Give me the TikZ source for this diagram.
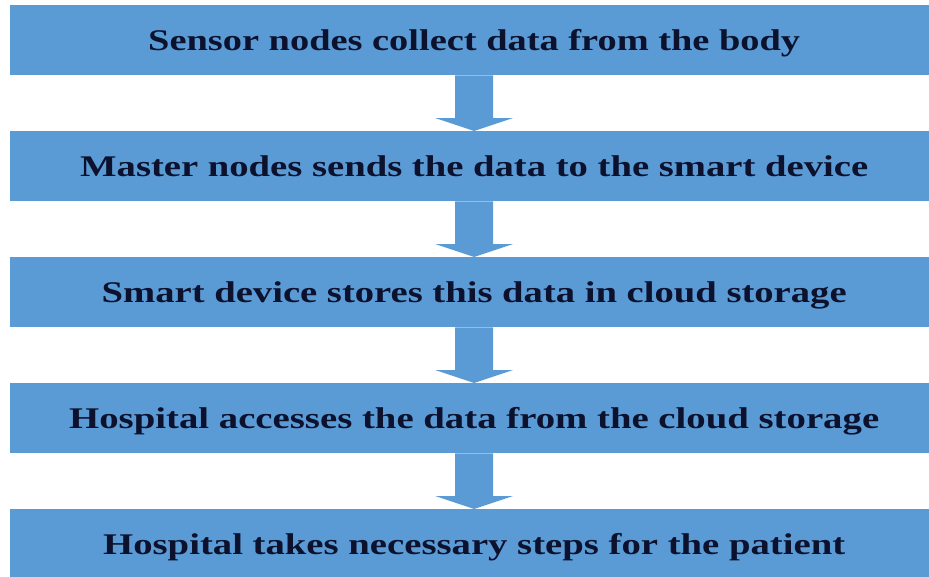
\documentclass[tikz,border=0pt]{standalone}
\usepackage{fontspec}
\setmainfont{Liberation Serif}
\usetikzlibrary{calc}

\definecolor{boxblue}{RGB}{91,155,213}
\definecolor{inkblue}{RGB}{12,18,45}

% Wide lettering: scale the bold text horizontally to a given width
\newcommand\widetext[2]{\resizebox{#1}{\height}{#2}}

\tikzset{
  stepbox/.style={fill=boxblue, draw=none, anchor=north west,
    minimum width=928pt, minimum height=70pt, inner sep=0pt,
    text height=20pt, text depth=0pt, text=inkblue,
    font=\bfseries\fontsize{30}{36}\selectfont},
  flowarrow/.style={fill=boxblue, draw=none}
}

% Block arrow from the bottom of one box to the top of the next
\newcommand\blockarrow[2]{%
  \fill[flowarrow]
    ($(#1.south)+(-19pt,0)$) -- ($(#1.south)+(19pt,0)$) --
    ($(#2.north)+(19pt,13pt)$) -- ($(#2.north)+(39pt,13pt)$) --
    (#2.north) --
    ($(#2.north)+(-39pt,13pt)$) -- ($(#2.north)+(-19pt,13pt)$) -- cycle;}

\begin{document}
\begin{tikzpicture}
  \useasboundingbox (0,0) rectangle (929pt,-576pt);
  \clip (0,0) rectangle (929pt,-576pt);

  \node[stepbox] (s1) at (10pt,-5pt)
    {\widetext{652pt}{Sensor nodes collect data from the body}};
  \node[stepbox] (s2) at (10pt,-131pt)
    {\widetext{788pt}{Master nodes sends the data to the smart device}};
  \node[stepbox] (s3) at (10pt,-257pt)
    {\widetext{745pt}{Smart device stores this data in cloud storage}};
  \node[stepbox] (s4) at (10pt,-383pt)
    {\widetext{810pt}{Hospital accesses the data from the cloud storage}};
  \node[stepbox] (s5) at (10pt,-509pt)
    {\widetext{742pt}{Hospital takes necessary steps for the patient}};

  \blockarrow{s1}{s2}
  \blockarrow{s2}{s3}
  \blockarrow{s3}{s4}
  \blockarrow{s4}{s5}
\end{tikzpicture}
\end{document}
